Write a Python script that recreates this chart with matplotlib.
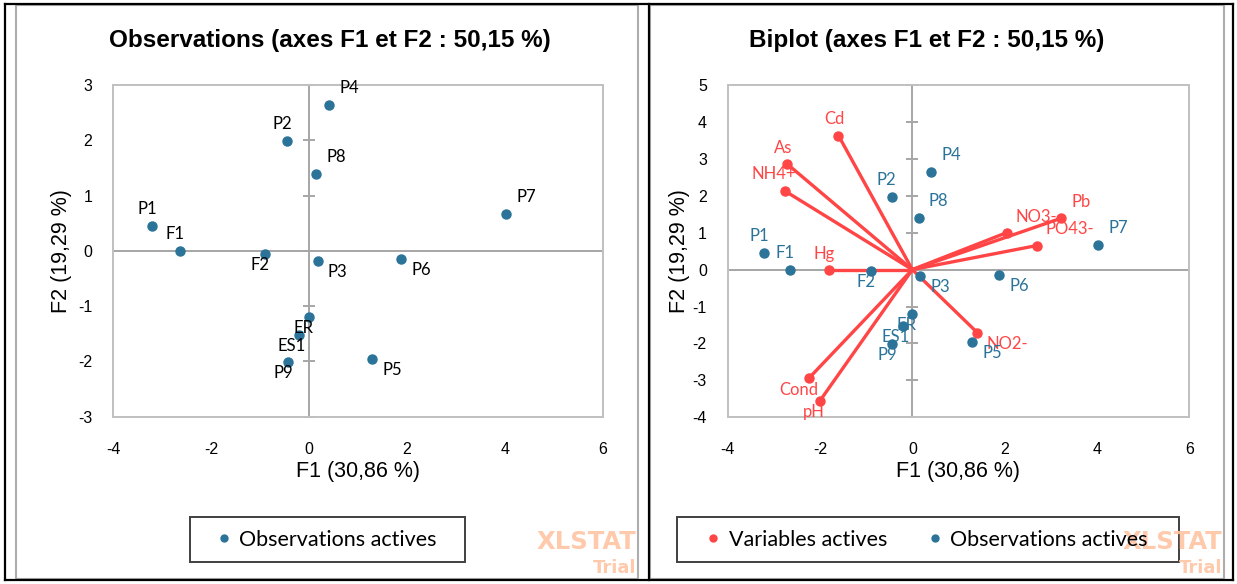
import matplotlib
matplotlib.use('Agg')
import matplotlib.pyplot as plt
from matplotlib.lines import Line2D
from matplotlib.patches import Rectangle
import numpy as np

plt.rcParams['axes.unicode_minus'] = False

# observations actives (F1, F2)
obs_names = ['P1', 'F1', 'P2', 'P4', 'P8', 'F2', 'P3', 'P6', 'P7', 'ER', 'ES1', 'P9', 'P5']
obs_f1 = [-3.21, -2.64, -0.45, 0.41, 0.14, -0.90, 0.17, 1.88, 4.02, -0.01, -0.21, -0.43, 1.29]
obs_f2 = [0.45, 0.00, 1.98, 2.64, 1.39, -0.05, -0.18, -0.14, 0.66, -1.19, -1.52, -2.01, -1.95]

# variables actives (biplot)
var_names = ['Cd', 'As', 'NH4+', 'Hg', 'Cond', 'pH', 'NO2-', 'NO3-', 'Pb', 'PO43-']
var_f1 = [-1.60, -2.72, -2.76, -1.80, -2.24, -2.00, 1.41, 2.04, 3.22, 2.69]
var_f2 = [3.63, 2.87, 2.13, 0.00, -2.94, -3.55, -1.71, 1.00, 1.39, 0.65]

title_left = 'Observations (axes F1 et F2 : 50,15 %)'
title_right = 'Biplot (axes F1 et F2 : 50,15 %)'
xlab = 'F1 (30,86 %)'
ylab = 'F2 (19,29 %)'

# label offsets in pixels (dx, dy up)
obs_off = {'P1': (-5, 17), 'F1': (-5, 17), 'P2': (-5, 17), 'P4': (20, 17), 'P8': (20, 17),
           'F2': (-5, -11), 'P3': (20, -11), 'P6': (20, -11), 'P7': (20, 17),
           'ER': (-5, -11), 'ES1': (-7, -11), 'P9': (-5, -11), 'P5': (20, -11)}
var_off = {'Cd': (-4, 17), 'As': (-4, 16), 'NH4+': (-11, 17), 'Hg': (-5, 16),
           'Cond': (-10, -12), 'pH': (-6, -11), 'NO2-': (30, -11), 'NO3-': (30, 16),
           'Pb': (20, 16), 'PO43-': (33, 17)}

BLUE = '#2B7399'
RED = '#FF4545'
GRID = '#A6A6A6'
W, H = 1237, 584

fig = plt.figure(figsize=(W / 100, H / 100), dpi=100)


def fx(px):
    return px / W


def fy(py):
    return 1 - py / H


def make_axes(x0, x1, y0, y1):
    return fig.add_axes([fx(x0), fy(y1), fx(x1) - fx(x0), fy(y0) - fy(y1)])


def style(ax, xlim, ylim, yticks):
    ax.set_xlim(*xlim)
    ax.set_ylim(*ylim)
    ax.set_xticks(np.arange(-4, 7, 2))
    ax.set_yticks(yticks)
    ax.tick_params(length=0, labelsize=11.5, pad=15)
    ax.tick_params(axis='x', pad=18)
    for lab in ax.get_xticklabels() + ax.get_yticklabels():
        lab.set_family('Liberation Sans')
    for s in ax.spines.values():
        s.set_color('#C0C0C0')
        s.set_linewidth(1.4)
    ax.axhline(0, color=GRID, lw=1.4, zorder=1)
    ax.axvline(0, color=GRID, lw=1.4, zorder=1)
    ax.plot(np.zeros(len(yticks)), yticks, ls='none', marker='_', ms=9, mew=1.4,
            color=GRID, zorder=1, clip_on=False)
    ax.set_xlabel(xlab, fontsize=15.5, family='Liberation Sans')
    ax.set_ylabel(ylab, fontsize=15.5, family='Liberation Sans')
    ax.xaxis.label.set_va('center')
    ax.yaxis.label.set_va('center')


# ---- left: observations
ax1 = make_axes(113.3, 603, 85, 416.7)
style(ax1, (-4, 6), (-3, 3), np.arange(-3, 4, 1))
ax1.xaxis.set_label_coords(0.5, (417 - 472) / 332)
ax1.yaxis.set_label_coords((62 - 113.3) / 489.7, 0.5)
ax1.plot(obs_f1, obs_f2, ls='none', marker='o', ms=6.5, color=BLUE, zorder=3)
for n, x, y in zip(obs_names, obs_f1, obs_f2):
    dx, dy = obs_off[n]
    ax1.annotate(n, (x, y), xytext=(dx, dy), textcoords='offset pixels',
                 ha='center', va='center', fontsize=12, family='Lato', color='black')

# ---- right: biplot
ax2 = make_axes(727.7, 1189.3, 85, 417.3)
style(ax2, (-4, 6), (-4, 5), np.arange(-4, 6, 1))
ax2.xaxis.set_label_coords(0.5, (417.3 - 472) / 332.3)
ax2.yaxis.set_label_coords((680 - 727.7) / 461.6, 0.5)
for x, y in zip(var_f1, var_f2):
    ax2.plot([0, x], [0, y], color=RED, lw=2.4, zorder=2, solid_capstyle='round')
ax2.plot(var_f1, var_f2, ls='none', marker='o', ms=6.5, color=RED, zorder=3)
ax2.plot(obs_f1, obs_f2, ls='none', marker='o', ms=6.5, color=BLUE, zorder=3)
for n, x, y in zip(var_names, var_f1, var_f2):
    dx, dy = var_off[n]
    ax2.annotate(n, (x, y), xytext=(dx, dy), textcoords='offset pixels',
                 ha='center', va='center', fontsize=12, family='Lato', color=RED)
for n, x, y in zip(obs_names, obs_f1, obs_f2):
    dx, dy = obs_off[n]
    ax2.annotate(n, (x, y), xytext=(dx, dy), textcoords='offset pixels',
                 ha='center', va='center', fontsize=12, family='Lato', color=BLUE)

# titles
fig.text(fx(330), fy(40), title_left, ha='center', va='center', fontsize=17.5,
         fontweight='bold', family='Liberation Sans')
fig.text(fx(927), fy(40), title_right, ha='center', va='center', fontsize=17.5,
         fontweight='bold', family='Liberation Sans')


# legends
def legend_box(x0, x1, handles, labels, ncol):
    fig.add_artist(Rectangle((fx(x0), fy(562)), fx(x1) - fx(x0), fy(517) - fy(562),
                             transform=fig.transFigure, fill=False, ec='#404040', lw=1.4))
    fig.legend(handles, labels, loc='center', bbox_to_anchor=(fx((x0 + x1) / 2), fy(539.5)),
               ncol=ncol, frameon=False, handlelength=0.5, handletextpad=0.45,
               columnspacing=2.0, prop={'family': 'Lato', 'size': 15.5})


dot_b = Line2D([], [], ls='none', marker='o', ms=5, color=BLUE)
dot_r = Line2D([], [], ls='none', marker='o', ms=5, color=RED)
legend_box(190, 465, [dot_b], ['Observations actives'], 1)
legend_box(677, 1179, [dot_r, dot_b], ['Variables actives', 'Observations actives'], 2)

# watermark
for xr in (636, 1222):
    fig.text(fx(xr), fy(542), 'XLSTAT', ha='right', va='center', fontsize=17.5,
             fontweight='bold', family=['Liberation Sans Narrow', 'DejaVu Sans'],
             color='#FFC4A3', alpha=0.9)
    fig.text(fx(xr), fy(568), 'Trial', ha='right', va='center', fontsize=13,
             fontweight='bold', family=['Liberation Sans Narrow', 'DejaVu Sans'],
             color='#FFC4A3', alpha=0.9)

# panel frames
for x0, x1 in ((16, 638), (650, 1224)):
    fig.add_artist(Rectangle((fx(x0), fy(579)), fx(x1) - fx(x0), fy(5) - fy(579),
                             transform=fig.transFigure, fill=False, ec='#ADADAD', lw=1.5))
for xs, ys in (([5, 5], [4, 580]), ([649, 649], [4, 580]), ([1233, 1233], [4, 580]),
               ([5, 1233], [4, 4]), ([5, 1233], [580, 580])):
    fig.add_artist(Line2D([fx(v) for v in xs], [fy(v) for v in ys],
                          transform=fig.transFigure, color='black', lw=1.6))

fig.savefig('out.png', dpi=100)
